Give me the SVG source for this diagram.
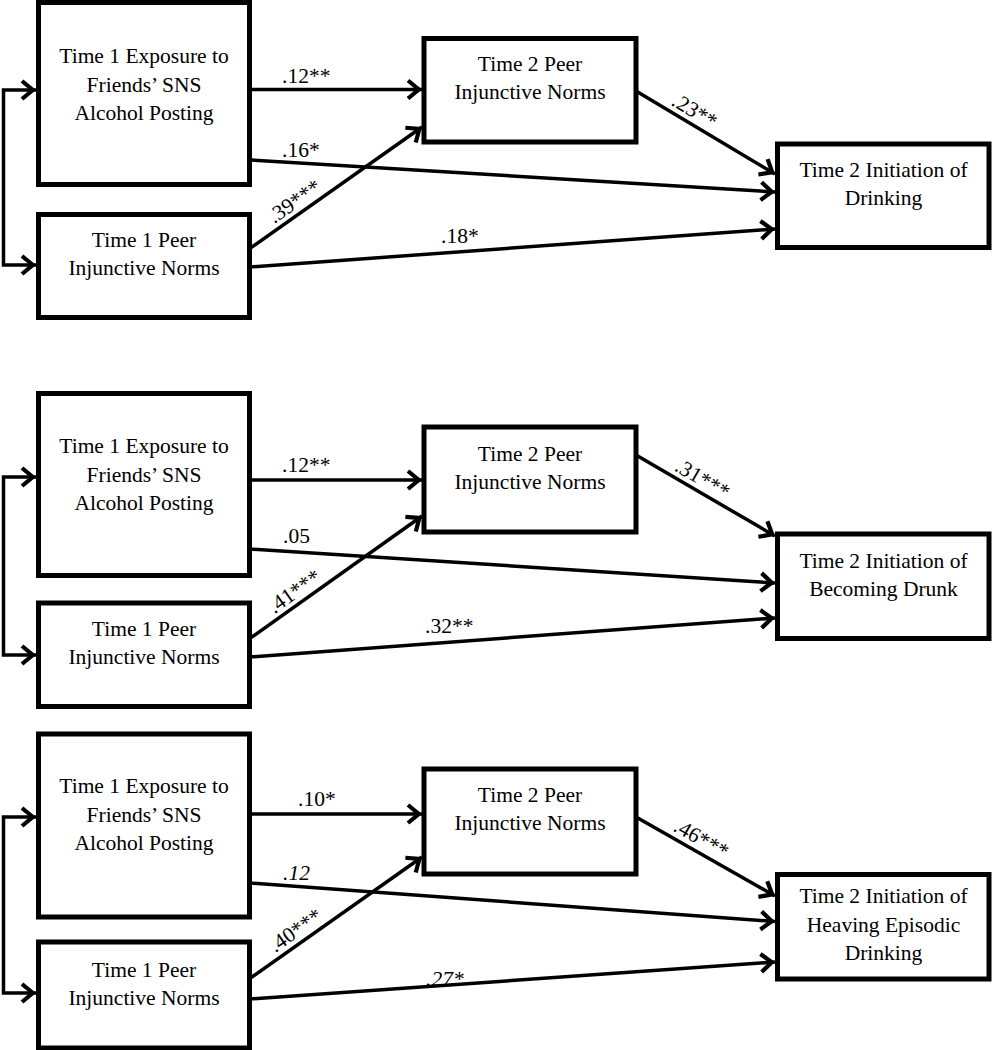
<svg xmlns="http://www.w3.org/2000/svg" width="992" height="1050" viewBox="0 0 992 1050" font-family="'Liberation Serif', 'Times New Roman', serif">
<defs>
<style>
.box{fill:#fff;stroke:#000;stroke-width:5}
.t{font-family:'Liberation Serif','Times New Roman',serif;font-size:21.5px;fill:#000;text-anchor:middle}
.l{font-family:'Liberation Serif','Times New Roman',serif;font-size:21.5px;fill:#000}
.lm{font-family:'Liberation Serif','Times New Roman',serif;font-size:21.5px;fill:#000;text-anchor:middle}
.i{font-style:italic}
.c{fill:none;stroke:#000;stroke-width:3.5;stroke-linejoin:miter}
.c path{marker-end:url(#ah)}
.c path.d{marker-start:url(#ah)}
</style>
<marker id="ah" markerUnits="userSpaceOnUse" markerWidth="30" markerHeight="30" viewBox="-20 -15 30 30" refX="0" refY="0" orient="auto-start-reverse" overflow="visible">
<path d="M-14,-9 L-3.2,0 L-14,9" fill="none" stroke="#000" stroke-width="4.2" stroke-linejoin="miter"/>
</marker>
</defs>
<rect width="992" height="1050" fill="#fff"/>

<g id="connectors" class="c">
<!-- panel 1 -->
<path class="d" d="M36,90 H3.5 V265 H36"/>
<path d="M250,89.5 H422"/>
<path d="M250,160 L775,192"/>
<path d="M250,248.4 L422,127"/>
<path d="M250,267 L775,229"/>
<path d="M636,91 L775,174"/>
<!-- panel 2 -->
<path class="d" d="M36,477 H3.5 V655 H36"/>
<path d="M250,480 H422"/>
<path d="M250,549 L775,583"/>
<path d="M250,638.4 L422,516"/>
<path d="M250,657 L775,618"/>
<path d="M636,455 L775,536"/>
<!-- panel 3 -->
<path class="d" d="M36,817 H3.5 V993 H36"/>
<path d="M250,814 H422"/>
<path d="M250,883 L775,921.5"/>
<path d="M250,978.4 L422,857"/>
<path d="M250,999 L775,962"/>
<path d="M636,817 L775,896"/>
</g>

<g id="labels">
<text class="l" x="282" y="83">.12**</text>
<text class="l" x="282" y="157">.16*</text>
<text class="lm" transform="translate(302,212) rotate(-35.06)" y="-6">.39***</text>
<text class="l" x="441" y="243">.18*</text>
<text class="lm" transform="translate(688,122) rotate(30.78)" y="-6">.23**</text>

<text class="l" x="282" y="472">.12**</text>
<text class="l" x="283" y="543">.05</text>
<text class="lm" transform="translate(302,602) rotate(-35.3)" y="-6">.41***</text>
<text class="l" x="425" y="633">.32**</text>
<text class="lm" transform="translate(696,490) rotate(30.18)" y="-6">.31***</text>

<text class="l" x="298" y="806">.10*</text>
<text class="l i" x="283" y="880">.12</text>
<text class="lm" transform="translate(303,941) rotate(-35.06)" y="-6">.40***</text>
<text class="l i" x="426" y="986">.27*</text>
<text class="lm" transform="translate(695,850) rotate(29.57)" y="-6">.46***</text>
</g>

<g id="p1-exposure">
<rect class="box" x="38.5" y="2.5" width="211" height="182"/>
<text class="t" x="144" y="63">Time 1 Exposure to</text>
<text class="t" x="144" y="91.5">Friends’ SNS</text>
<text class="t" x="144" y="120">Alcohol Posting</text>
</g>
<g id="p1-t1peer">
<rect class="box" x="38.5" y="214.5" width="211" height="103"/>
<text class="t" x="144" y="247">Time 1 Peer</text>
<text class="t" x="144" y="275">Injunctive Norms</text>
</g>
<g id="p1-t2peer">
<rect class="box" x="424" y="38.5" width="212" height="103.5"/>
<text class="t" x="530" y="71">Time 2 Peer</text>
<text class="t" x="530" y="99">Injunctive Norms</text>
</g>
<g id="p1-outcome">
<rect class="box" x="777.5" y="144" width="211.5" height="103.5"/>
<text class="t" x="883.5" y="177">Time 2 Initiation of</text>
<text class="t" x="883.5" y="205">Drinking</text>
</g>

<g id="p2-exposure">
<rect class="box" x="38.5" y="393.5" width="211" height="182"/>
<text class="t" x="144" y="453">Time 1 Exposure to</text>
<text class="t" x="144" y="481.5">Friends’ SNS</text>
<text class="t" x="144" y="510">Alcohol Posting</text>
</g>
<g id="p2-t1peer">
<rect class="box" x="38.5" y="603" width="211" height="103.5"/>
<text class="t" x="144" y="636">Time 1 Peer</text>
<text class="t" x="144" y="664">Injunctive Norms</text>
</g>
<g id="p2-t2peer">
<rect class="box" x="424" y="427" width="212" height="105"/>
<text class="t" x="530" y="461">Time 2 Peer</text>
<text class="t" x="530" y="489">Injunctive Norms</text>
</g>
<g id="p2-outcome">
<rect class="box" x="777.5" y="534" width="211.5" height="104.5"/>
<text class="t" x="883.5" y="568">Time 2 Initiation of</text>
<text class="t" x="883.5" y="596">Becoming Drunk</text>
</g>

<g id="p3-exposure">
<rect class="box" x="38.5" y="734" width="211" height="183"/>
<text class="t" x="144" y="793">Time 1 Exposure to</text>
<text class="t" x="144" y="821.5">Friends’ SNS</text>
<text class="t" x="144" y="850">Alcohol Posting</text>
</g>
<g id="p3-t1peer">
<rect class="box" x="38.5" y="942" width="211" height="106"/>
<text class="t" x="144" y="977">Time 1 Peer</text>
<text class="t" x="144" y="1005">Injunctive Norms</text>
</g>
<g id="p3-t2peer">
<rect class="box" x="424" y="769" width="212" height="105"/>
<text class="t" x="530" y="802">Time 2 Peer</text>
<text class="t" x="530" y="830">Injunctive Norms</text>
</g>
<g id="p3-outcome">
<rect class="box" x="777.5" y="874.5" width="211.5" height="104.5"/>
<text class="t" x="883.5" y="903">Time 2 Initiation of</text>
<text class="t" x="883.5" y="931.5">Heaving Episodic</text>
<text class="t" x="883.5" y="960">Drinking</text>
</g>
</svg>
